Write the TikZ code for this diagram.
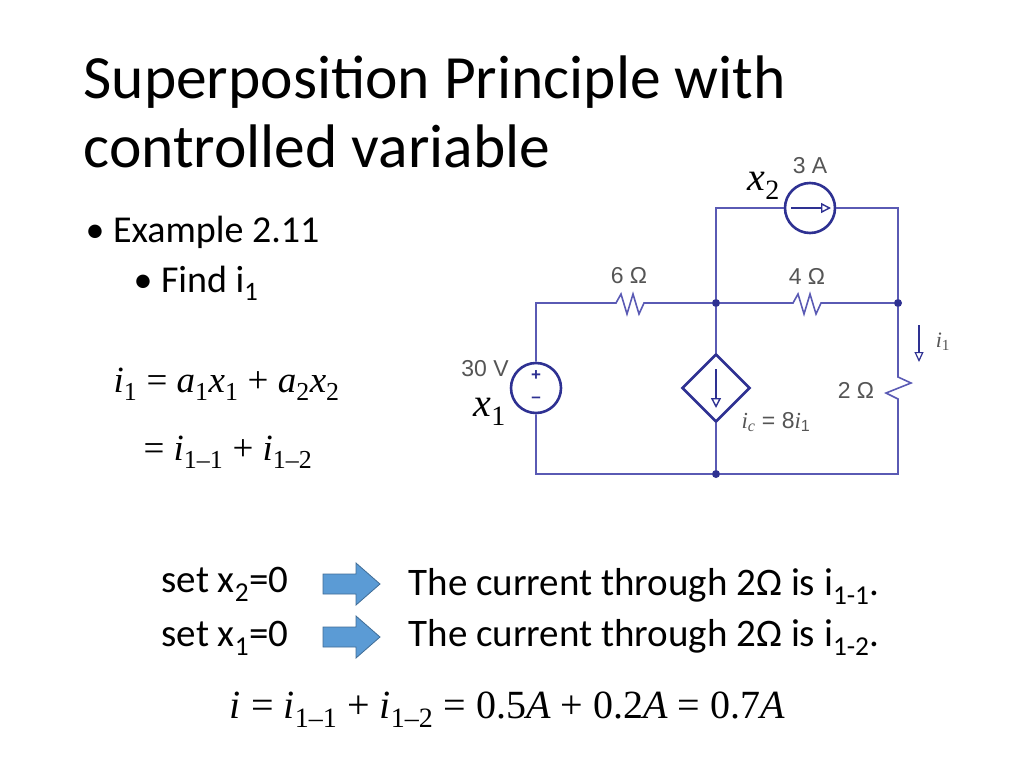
\documentclass[tikz,border=0pt]{standalone}
\usepackage{fontspec}
\setmainfont{Carlito}
\newfontfamily\serif{Liberation Serif}
\newfontfamily\hel{Liberation Sans}
\usetikzlibrary{shapes.geometric,arrows.meta}
\definecolor{wire}{HTML}{5A5AB4}
\definecolor{comp}{HTML}{2E3192}
\definecolor{lab}{HTML}{555555}
\definecolor{barrow}{HTML}{5B9BD5}
\newcommand\vv[2]{{\itshape #1}\textsubscript{\upshape #2}}
\begin{document}
\begin{tikzpicture}[x=1pt,y=-1pt,
  w/.style={draw=wire,line width=1.6pt},
  src/.style={circle,draw=comp,line width=2.6pt,minimum size=50pt,inner sep=0pt},
  dot/.style={circle,fill=comp,inner sep=0pt,minimum size=8pt},
  clab/.style={text=lab,font=\hel\fontsize{23}{23}\selectfont},
  blk/.style={draw=barrow!70!black,fill=barrow,line width=0.8pt},
  eq/.style={font=\serif\fontsize{37}{37}\selectfont,anchor=base west},
  txt/.style={font=\fontsize{39}{39}\selectfont,anchor=base west}]
\useasboundingbox (0,0) rectangle (1024,768);
% title
\node[anchor=base west,font=\fontsize{61.5}{61.5}\selectfont] (title) at (80,98) {Superposition Principle with};
\node[anchor=base west,font=\fontsize{61.5}{61.5}\selectfont] (title2) at (80,167) {controlled variable};
\node[anchor=base west,font=\fontsize{38}{38}\selectfont] (b1) at (82,242) {•\ Example 2.11};
\node[anchor=base west,font=\fontsize{38}{38}\selectfont] (b2) at (130,292) {•\ Find i\textsubscript{1}};
% equations
\node[eq] (e1) at (110,392) {\vv{i}{1} = \vv{a}{1}\vv{x}{1} + \vv{a}{2}\vv{x}{2}};
\node[eq] (e2) at (140,460) {= \vv{i}{1–1} + \vv{i}{1–2}};
% circuit
\coordinate (TL) at (716,208); \coordinate (TR) at (898,208);
\coordinate (ML) at (536,303); \coordinate (BL) at (536,474); \coordinate (BR) at (898,474);
\node[dot] (nm) at (716,303) {}; \node[dot] (nr) at (898,303) {}; \node[dot] (nb) at (716,474) {};
\node[src] (vs) at (536,388) {};
\node[font=\hel\bfseries\fontsize{17}{17}\selectfont,text=comp] (vp) at (536,376) {+};
\node[font=\hel\bfseries\fontsize{17}{17}\selectfont,text=comp] (vm) at (536,400) {–};
\node[src] (cs) at (810,208) {};
\draw[comp,line width=1.4pt,-{Triangle[open,length=10pt,width=10pt]}] (791,208) -- (831,208);
\node[diamond,draw=comp,line width=2.6pt,minimum size=68pt,inner sep=0pt] (dep) at (716,388) {};
\draw[comp,line width=1.4pt,-{Triangle[open,length=10pt,width=10pt]}] (716,369) -- (716,408);
% wires
\draw[w] (vs.north) -- (ML) -- (616,303) -- (621,294) -- (627,314) -- (633,294) -- (639,314) -- (644,303) -- (nm);
\draw[w] (nm) -- (793,303) -- (798,294) -- (804,314) -- (810,294) -- (816,314) -- (821,303) -- (nr);
\draw[w] (nm) -- (TL) -- (cs.west); \draw[w] (cs.east) -- (TR) -- (nr);
\draw[w] (nm) -- (dep.north); \draw[w] (dep.south) -- (nb);
\draw[w] (vs.south) -- (BL) -- (nb) -- (BR) -- (898,399) -- (886,393) -- (911,383) -- (898,377) -- (nr);
\draw[comp,line width=1.2pt,-{Triangle[open,length=10pt,width=9pt]}] (919,325) -- (919,362);
\node[text=lab,font=\serif\itshape\fontsize{22}{22}\selectfont] (i1l) at (943,342) {i\textsubscript{\upshape 1}};
\node[clab] (l3a) at (810,166) {3 A};
\node[clab] (l6) at (629,276) {6 Ω};
\node[clab] (l4) at (807,276) {4 Ω};
\node[clab] (l30) at (485,369) {30 V};
\node[clab] (l2) at (856,390) {2 Ω};
\node[clab,anchor=west] (lic) at (738,422) {{\serif\itshape i\textsubscript{c}} = 8{\serif\itshape i}\textsubscript{1}};
\node[eq,font=\serif\fontsize{40}{40}\selectfont] (x2) at (744,190) {\vv{x}{2}};
\node[eq,font=\serif\fontsize{40}{40}\selectfont] (x1) at (470,416) {\vv{x}{1}};
% bottom
\node[txt] (s2) at (158,592) {set x\textsubscript{2}=0};
\node[txt] (s1) at (158,646) {set x\textsubscript{1}=0};
\draw[blk] (323,574) -- (356,574) -- (356,563) -- (380,584) -- (356,605) -- (356,594) -- (323,594) -- cycle;
\draw[blk] (323,627) -- (356,627) -- (356,616) -- (380,637) -- (356,658) -- (356,647) -- (323,647) -- cycle;
\node[txt] (t1) at (405,595) {The current through 2Ω is i\textsubscript{1-1}.};
\node[txt] (t2) at (405,646) {The current through 2Ω is i\textsubscript{1-2}.};
\node[eq,font=\serif\fontsize{40}{40}\selectfont] (ef) at (226,718) {\vv{i}{} = \vv{i}{1–1} + \vv{i}{1–2} = 0.5{\itshape A} + 0.2{\itshape A} = 0.7{\itshape A}};
\end{tikzpicture}
\end{document}
